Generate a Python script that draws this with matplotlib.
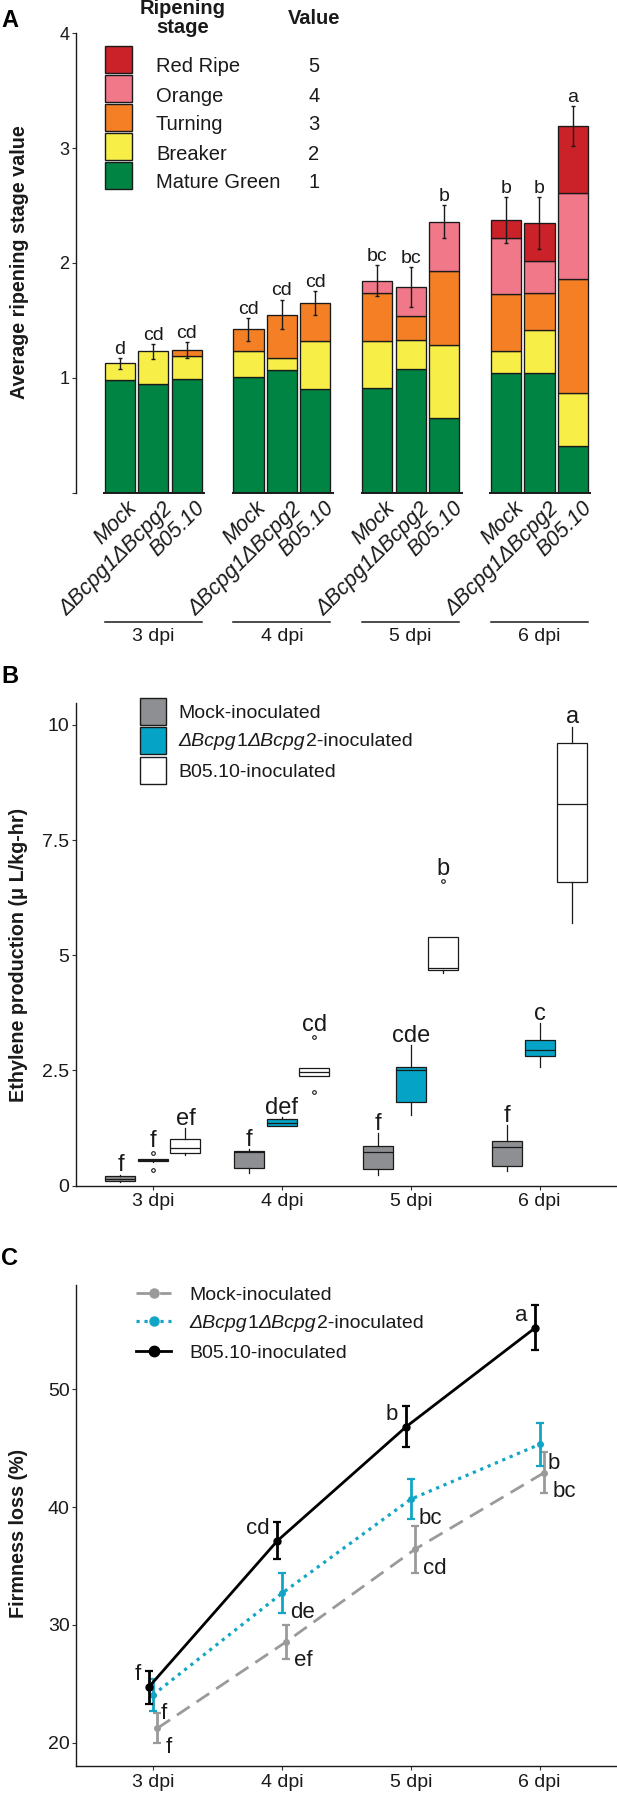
import numpy as np
import matplotlib
matplotlib.use("Agg")
import matplotlib.pyplot as plt
import matplotlib.transforms as mtransforms
from matplotlib.patches import Rectangle
from matplotlib.lines import Line2D

# ------------------------------------------------------------------ data
days = ["3 dpi", "4 dpi", "5 dpi", "6 dpi"]
strains_A = ["Mock", "ΔBcpg1ΔBcpg2", "B05.10"]

stage_names = ["Mature Green", "Breaker", "Turning", "Orange", "Red Ripe"]
stage_values = [1, 2, 3, 4, 5]
stage_colors = ["#008443", "#F7EE47", "#F47F24", "#F07888", "#CB2128"]

# stacked contribution of each stage (day-major; Mock, ΔBcpg1ΔBcpg2, B05.10)
mature_green = [0.98, 0.945, 0.99, 1.01, 1.07, 0.90, 0.91, 1.08, 0.645, 1.04, 1.04, 0.405]
breaker      = [0.145, 0.285, 0.20, 0.22, 0.10, 0.42, 0.41, 0.25, 0.64, 0.19, 0.375, 0.465]
turning      = [0.0, 0.0, 0.05, 0.19, 0.38, 0.33, 0.42, 0.21, 0.645, 0.50, 0.325, 0.99]
orange       = [0.0, 0.0, 0.0, 0.0, 0.0, 0.0, 0.105, 0.25, 0.43, 0.49, 0.28, 0.75]
red_ripe     = [0.0, 0.0, 0.0, 0.0, 0.0, 0.0, 0.0, 0.0, 0.0, 0.15, 0.325, 0.58]
ripening_err = [0.045, 0.065, 0.07, 0.10, 0.13, 0.105, 0.135, 0.175, 0.145, 0.20, 0.225, 0.175]
ripening_letters = ["d", "cd", "cd", "cd", "cd", "cd", "bc", "bc", "b", "b", "b", "a"]

# ethylene: [whisker low, q1, median, q3, whisker high] per day
eth_groups = ["Mock-inoculated", "ΔBcpg1ΔBcpg2-inoculated", "B05.10-inoculated"]
eth_colors = ["#8D8F92", "#05A4C6", "#FFFFFF"]
eth_mock = [[0.08, 0.10, 0.15, 0.21, 0.23],
            [0.28, 0.37, 0.72, 0.75, 0.79],
            [0.23, 0.35, 0.73, 0.86, 1.13],
            [0.32, 0.42, 0.83, 0.97, 1.31]]
eth_mock_out = [[], [], [], []]
eth_delta = [[0.52, 0.53, 0.55, 0.57, 0.58],
             [1.29, 1.29, 1.36, 1.44, 1.48],
             [1.53, 1.81, 2.51, 2.58, 3.05],
             [2.58, 2.82, 2.94, 3.16, 3.52]]
eth_delta_out = [[0.71, 0.33], [], [], []]
eth_b05 = [[0.66, 0.70, 0.81, 1.00, 1.24],
           [2.385, 2.385, 2.47, 2.545, 2.545],
           [4.62, 4.69, 4.72, 5.39, 5.39],
           [5.69, 6.58, 8.28, 9.60, 9.96]]
eth_b05_out = [[], [3.23, 2.04], [6.62], []]
eth_letters = [["f", "f", "f", "f"], ["f", "def", "cde", "c"], ["ef", "cd", "b", "a"]]

# firmness loss (%)
firm_mock = [21.22, 28.57, 36.43, 42.92]
firm_mock_err = [1.28, 1.46, 2.00, 1.72]
firm_delta = [24.05, 32.68, 40.67, 45.33]
firm_delta_err = [1.35, 1.70, 1.72, 1.80]
firm_b05 = [24.70, 37.15, 46.84, 55.23]
firm_b05_err = [1.41, 1.59, 1.74, 1.92]
firm_letters = [["f", "ef", "cd", "bc"], ["f", "de", "bc", "b"], ["f", "cd", "b", "a"]]
firm_colors = ["#9A9A9A", "#12A6C4", "#000000"]

# ------------------------------------------------------------------ style
plt.rcParams['font.family'] = ['Liberation Sans', 'DejaVu Sans']
INK = "#1a1a1a"
W, H, DPI = 617, 1794, 100
fig = plt.figure(figsize=(W / DPI, H / DPI), dpi=DPI)
renderer = fig.canvas.get_renderer()


def fx(x):
    return x / W


def fy(y):
    return 1.0 - y / H


def add_ax(l, t, r, b):
    return fig.add_axes([fx(l), fy(b), (r - l) / W, (b - t) / H])


def style_axis(ax, fs):
    for s in ["top", "right"]:
        ax.spines[s].set_visible(False)
    for s in ["left", "bottom"]:
        ax.spines[s].set_linewidth(1.0)
        ax.spines[s].set_color(INK)
    ax.tick_params(length=2.6, width=0.8, color="#333333", labelsize=fs,
                   labelcolor=INK, pad=1.8)


def chain_text(x, y, pieces, fs):
    """pieces: list of (string, style); x, y in px, y is the baseline"""
    xp = x
    for s, st in pieces:
        t = fig.text(fx(xp), fy(y), s, style=st, fontsize=fs, ha="left",
                     va="baseline", color=INK)
        xp += t.get_window_extent(renderer).width + (1.0 if st == "italic" else 0.0)


# ------------------------------------------------------------------ panel A
axA = add_ax(75.6, 33.3, 605.0, 492.5)
px_unit = 33.45
grp_step = 3.85
xA0 = -(119.7 - 75.6) / px_unit
axA.set_xlim(xA0, xA0 + (605.0 - 75.6) / px_unit)
axA.set_ylim(0, 4)
xA = np.array([g * grp_step + i for g in range(len(days)) for i in range(len(strains_A))], float)
base = np.zeros(len(xA))
for vals, col in zip([mature_green, breaker, turning, orange, red_ripe], stage_colors):
    v = np.array(vals)
    m = v > 0
    axA.bar(xA[m], v[m], 0.9, bottom=base[m], color=col, edgecolor=INK,
            linewidth=0.95, zorder=2)
    base += v
axA.errorbar(xA, base, yerr=ripening_err, fmt="none", ecolor=INK, elinewidth=1.0,
             capsize=1.6, capthick=1.0, zorder=3)
for x, t, e, l in zip(xA, base, ripening_err, ripening_letters):
    axA.annotate(l, (x, t + e), xytext=(0, 3), textcoords="offset points",
                 ha="center", va="baseline", fontsize=14, color=INK)
style_axis(axA, 13)
axA.spines["bottom"].set_visible(False)
axA.set_xticks([])
axA.set_yticks([0, 1, 2, 3, 4])
axA.set_yticklabels(["", "1", "2", "3", "4"])

unit_y = (492.5 - 33.3) / 4
y_line = -(621.7 - 492.5) / unit_y
y_day = -(636.0 - 492.5) / unit_y
lab_shift = [(7, -5), (9, -6), (8, -5)]   # px offsets of label anchors (Mock, Δ, B05.10)
for g, d in enumerate(days):
    c0 = g * grp_step
    axA.plot([c0 - 0.5, c0 + 2.55], [0, 0], color=INK, lw=1.4,
             solid_capstyle="butt", clip_on=False, zorder=4)
    axA.plot([c0 - 0.45, c0 + 2.45], [y_line, y_line], color=INK, lw=1.1, clip_on=False)
    axA.text(c0 + 1, y_day, d, ha="center", va="center", fontsize=14, color=INK)
    for i, s in enumerate(strains_A):
        tr = mtransforms.offset_copy(axA.transData, fig=fig, x=lab_shift[i][0],
                                     y=lab_shift[i][1], units="dots")
        axA.text(c0 + i, 0, s, rotation=45, rotation_mode="anchor", ha="right",
                 va="top", style="italic", fontsize=15.5, color=INK, transform=tr)

# legend A
fig.text(fx(183), fy(18.0), "Ripening\nstage", ha="center", va="center",
         fontweight="bold", fontsize=14.5, linespacing=0.95, color=INK)
fig.text(fx(314), fy(18.5), "Value", ha="center", va="center",
         fontweight="bold", fontsize=14.5, color=INK)
for k in range(len(stage_names)):
    idx = len(stage_names) - 1 - k
    top = 46 + 29 * k
    fig.add_artist(Rectangle((fx(105), fy(top + 27)), 27 / W, 27 / H,
                             transform=fig.transFigure, facecolor=stage_colors[idx],
                             edgecolor=INK, linewidth=1.0))
    fig.text(fx(156), fy(top + 26.5), stage_names[idx], ha="left", va="baseline",
             fontsize=14.5, color=INK)
    fig.text(fx(313.7), fy(top + 26.5), str(stage_values[idx]), ha="center",
             va="baseline", fontsize=14.5, color=INK)

# ------------------------------------------------------------------ panel B
axB = add_ax(75.6, 703.3, 617.0, 1185.5)
axB.set_xlim(0.4, 4.6)
axB.set_ylim(0, 10.47)
offsets = [-0.252, 0.0, 0.252]
for k, (five, outs, col, lets) in enumerate(zip([eth_mock, eth_delta, eth_b05],
                                                 [eth_mock_out, eth_delta_out, eth_b05_out],
                                                 eth_colors, eth_letters)):
    stats = [dict(whislo=s[0], q1=s[1], med=s[2], q3=s[3], whishi=s[4], fliers=o)
             for s, o in zip(five, outs)]
    pos = [d + 1 + offsets[k] for d in range(len(days))]
    axB.bxp(stats, positions=pos, widths=0.233, patch_artist=True, showcaps=False,
            boxprops=dict(facecolor=col, edgecolor=INK, linewidth=0.9),
            medianprops=dict(color=INK, linewidth=0.9),
            whiskerprops=dict(color=INK, linewidth=0.9),
            flierprops=dict(marker="o", markersize=2.6, markerfacecolor="white",
                            markeredgecolor=INK, markeredgewidth=0.8),
            manage_ticks=False, zorder=2)
    for p, s, o, l in zip(pos, five, outs, lets):
        top = max([s[4]] + list(o))
        extra = 1.5 if (o and max(o) > s[4]) else 0
        axB.annotate(l, (p, top), xytext=(0, 2.5 + extra), textcoords="offset points",
                     ha="center", va="baseline", fontsize=17, color=INK)
style_axis(axB, 14)
axB.set_xticks(range(1, len(days) + 1))
axB.set_xticklabels(days)
axB.set_yticks([0, 2.5, 5, 7.5, 10])
axB.set_yticklabels(["0", "2.5", "5", "7.5", "10"])
axB.tick_params(axis="x", pad=3)

legB_tops = [698.3, 727.3, 756.7]
for k in range(3):
    fig.add_artist(Rectangle((fx(139.7), fy(legB_tops[k] + 27)), 26.5 / W, 27 / H,
                             transform=fig.transFigure, facecolor=eth_colors[k],
                             edgecolor=INK, linewidth=1.0))
fig.text(fx(178), fy(718.5), eth_groups[0], ha="left", va="baseline", fontsize=14, color=INK)
chain_text(178, 746, [("ΔBcpg", "italic"), ("1", "normal"), ("ΔBcpg", "italic"),
                      ("2-inoculated", "normal")], 14)
fig.text(fx(178), fy(777), eth_groups[2], ha="left", va="baseline", fontsize=14, color=INK)

# ------------------------------------------------------------------ panel C
axC = add_ax(75.6, 1285.0, 617.0, 1766.0)
axC.set_xlim(0.4, 4.6)
axC.set_ylim(18.02, 58.86)
dodge = [0.034, 0.0, -0.034]
styles = [dict(ls=(0, (5.5, 3.0)), lw=2.0, ms=4.0),
          dict(ls=(0, (1.0, 1.5)), lw=2.3, ms=4.0),
          dict(ls="-", lw=2.0, ms=5.0)]
xs = np.arange(1, len(days) + 1)
for k, (y, e, col, st) in enumerate(zip([firm_mock, firm_delta, firm_b05],
                                       [firm_mock_err, firm_delta_err, firm_b05_err],
                                       firm_colors, styles)):
    axC.errorbar(xs + dodge[k], y, yerr=e, color=col, ls=st["ls"], lw=st["lw"],
                 marker="o", ms=st["ms"], elinewidth=2.0, capsize=2.6, capthick=1.6,
                 zorder=2 + k)
    for xi, yi, l in zip(xs + dodge[k], y, firm_letters[k]):
        if k == 2:
            axC.annotate(l, (xi, yi), xytext=(-5.8, 5.0), textcoords="offset points",
                         ha="right", va="baseline", fontsize=16, color=INK)
        else:
            axC.annotate(l, (xi, yi), xytext=(5.8, -6.0), textcoords="offset points",
                         ha="left", va="top", fontsize=16, color=INK)
style_axis(axC, 14)
axC.set_xticks(xs)
axC.set_xticklabels(days)
axC.set_yticks([20, 30, 40, 50])
axC.tick_params(axis="x", pad=3)

legC_y = [1293.3, 1320.7, 1351.0]
for k in range(3):
    st = styles[k]
    fig.add_artist(Line2D([fx(135.8), fx(171.2)], [fy(legC_y[k])] * 2, color=firm_colors[k],
                          ls=st["ls"], lw=st["lw"], transform=fig.transFigure))
    fig.add_artist(Line2D([fx(153.5)], [fy(legC_y[k])], color=firm_colors[k], marker="o",
                          ms=st["ms"] + 2.5, ls="none", transform=fig.transFigure))
fig.text(fx(189), fy(legC_y[0] + 7), eth_groups[0], ha="left", va="baseline", fontsize=14, color=INK)
chain_text(189, legC_y[1] + 7, [("ΔBcpg", "italic"), ("1", "normal"), ("ΔBcpg", "italic"),
                                ("2-inoculated", "normal")], 14)
fig.text(fx(189), fy(legC_y[2] + 7), eth_groups[2], ha="left", va="baseline", fontsize=14, color=INK)

# ------------------------------------------------------------------ titles
fig.text(fx(19.6), fy(262.5), "Average ripening stage value", rotation=90, ha="center",
         va="center", fontweight="bold", fontsize=14.2, color=INK)
fig.text(fx(18.7), fy(955), "Ethylene production (μ L/kg-hr)", rotation=90, ha="center",
         va="center", fontweight="bold", fontsize=14.2, color=INK)
fig.text(fx(18.3), fy(1533), "Firmness loss (%)", rotation=90, ha="center",
         va="center", fontweight="bold", fontsize=14.2, color=INK)
for lab, yb in [("A", 27), ("B", 683), ("C", 1265)]:
    fig.text(fx(1.5), fy(yb), lab, ha="left", va="baseline", fontweight="bold",
             fontsize=17, color="black")

fig.savefig("out.png", dpi=DPI)
